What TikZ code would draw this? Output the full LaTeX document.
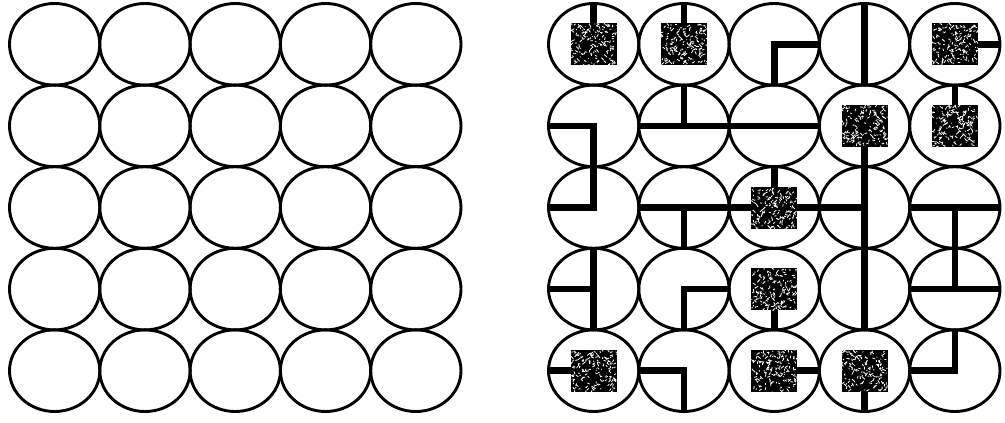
\documentclass[tikz,border=0pt]{standalone}
\usepackage{tikz}
\usetikzlibrary{shapes.geometric, calc}

\begin{document}
\begin{tikzpicture}[
  x=1pt, y=-1pt,
  cell/.style={draw, ellipse, line width=2.9pt, minimum width=90.3pt,
    minimum height=81.6pt, inner sep=0pt, outer sep=0pt},
  wire/.style={line width=6.5pt},
  blk/.style={rectangle, fill=black, minimum width=46pt,
    minimum height=42pt, inner sep=0pt,
    path picture={
      \foreach \k in {1,...,170}{
        \draw[white, line width=0.8pt]
          ($(path picture bounding box.north west)+({46*rnd},{42*rnd})$)
          -- ++({6*rnd-3},{6*rnd-3});
      }}}
]
  \pgfmathsetseed{11}
  \useasboundingbox (0,0) rectangle (1005,423);

  % Left grid: empty cells
  \foreach \c in {1,...,5}
    \foreach \r in {1,...,5}
      \node[cell] (l-\c-\r) at ({54.65+(\c-1)*90.3},{44.3+(\r-1)*81.6}) {};

  % Right grid
  \foreach \c in {1,...,5}
    \foreach \r in {1,...,5}
      \node[cell] (r-\c-\r) at ({593.65+(\c-1)*90.3},{44.3+(\r-1)*81.6}) {};

  % Row 1
  \draw[wire] (r-1-1.north) -- (r-1-1.center);
  \draw[wire] (r-2-1.north) -- (r-2-1.center);
  \draw[wire] (r-3-1.south) -- (r-3-1.center) -- (r-3-1.east);
  \draw[wire] (r-4-1.north) -- (r-4-1.south);
  \draw[wire] (r-5-1.center) -- (r-5-1.east);

  % Row 2
  \draw[wire] (r-1-2.west) -- (r-1-2.center) -- (r-1-2.south);
  \draw[wire] (r-2-2.west) -- (r-2-2.east);
  \draw[wire] (r-2-2.north) -- (r-2-2.center);
  \draw[wire] (r-3-2.west) -- (r-3-2.east);
  \draw[wire] (r-4-2.center) -- (r-4-2.south);
  \draw[wire] (r-5-2.north) -- (r-5-2.center);

  % Row 3
  \draw[wire] (r-1-3.north) -- (r-1-3.center) -- (r-1-3.west);
  \draw[wire] (r-2-3.west) -- (r-2-3.east);
  \draw[wire] (r-2-3.center) -- (r-2-3.south);
  \draw[wire] (r-3-3.west) -- (r-3-3.east);
  \draw[wire] (r-3-3.north) -- (r-3-3.center);
  \draw[wire] (r-4-3.north) -- (r-4-3.south);
  \draw[wire] (r-4-3.west) -- (r-4-3.center);
  \draw[wire] (r-5-3.west) -- (r-5-3.east);
  \draw[wire] (r-5-3.center) -- (r-5-3.south);

  % Row 4
  \draw[wire] (r-1-4.north) -- (r-1-4.south);
  \draw[wire] (r-1-4.west) -- (r-1-4.center);
  \draw[wire] (r-2-4.south) -- (r-2-4.center) -- (r-2-4.east);
  \draw[wire] (r-3-4.center) -- (r-3-4.south);
  \draw[wire] (r-4-4.north) -- (r-4-4.south);
  \draw[wire] (r-5-4.west) -- (r-5-4.east);
  \draw[wire] (r-5-4.north) -- (r-5-4.center);

  % Row 5
  \draw[wire] (r-1-5.west) -- (r-1-5.center);
  \draw[wire] (r-2-5.west) -- (r-2-5.center) -- (r-2-5.south);
  \draw[wire] (r-3-5.center) -- (r-3-5.east);
  \draw[wire] (r-4-5.center) -- (r-4-5.south);
  \draw[wire] (r-5-5.north) -- (r-5-5.center) -- (r-5-5.west);

  % Blocked cells
  \foreach \c/\r in {1/1, 2/1, 5/1, 4/2, 5/2, 3/3, 3/4, 1/5, 3/5, 4/5}
    \node[blk] (s-\c-\r) at (r-\c-\r) {};
\end{tikzpicture}
\end{document}
